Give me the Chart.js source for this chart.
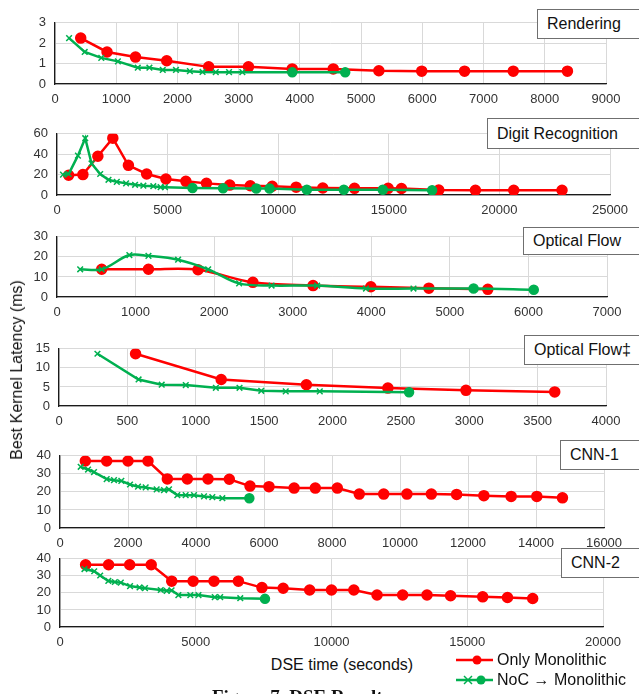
<!DOCTYPE html>
<html>
<head>
<meta charset="utf-8">
<script src="https://cdn.jsdelivr.net/npm/chart.js@4"></script>
<style>
  html, body { margin: 0; padding: 0; background: #fff; }
  #wrap { position: relative; width: 639px; height: 694px; overflow: hidden; font-family: "Liberation Sans", Arial, sans-serif; }
  canvas { position: absolute; left: 0; }
  .tag { position: absolute; background: #fff; border: 1px solid #6f6f6f; font-size: 16px; color: #111; padding: 0 30px 0 9px; box-sizing: border-box; display: flex; align-items: center; white-space: nowrap; }
  .txt { position: absolute; white-space: nowrap; color: #111; }
</style>
</head>
<body>
<div id="wrap"></div>
<script>
// ---- data ----
const renderingMonoX = [420, 850, 1315, 1825, 2510, 3160, 3875, 4545, 5290, 5990, 6690, 7485, 8370];
const renderingMonoY = [2.25, 1.57, 1.32, 1.14, 0.84, 0.84, 0.74, 0.74, 0.65, 0.63, 0.63, 0.63, 0.63];
const renderingNocX = [230, 485, 756, 1027, 1352, 1542, 1760, 1976, 2203, 2410, 2626, 2843, 3060, 3875, 4740];
const renderingNocY = [2.25, 1.57, 1.28, 1.11, 0.8, 0.8, 0.69, 0.69, 0.63, 0.59, 0.58, 0.58, 0.58, 0.57, 0.57];
const renderingNocSteps = 13;

const digitMonoX = [526, 1171, 1847, 2523, 3228, 4054, 4925, 5826, 6757, 7808, 8739, 9730, 10811, 12015, 13449, 14970, 15572, 17259, 18916, 20648, 22831];
const digitMonoY = [19.4, 20, 38, 55.7, 29.1, 20.6, 15.7, 13.4, 11.4, 9.7, 9.1, 8.6, 7.7, 6.9, 6.5, 6.5, 6.4, 4.8, 4.7, 4.7, 4.6];
const digitNocX = [270, 526, 946, 1276, 1562, 1952, 2327, 2703, 3123, 3529, 3904, 4354, 4685, 4880, 6126, 7508, 9009, 9610, 11295, 12967, 14729, 16958];
const digitNocY = [20, 20.6, 38.6, 55.7, 30.9, 20.6, 14.9, 12.9, 11.4, 10, 9.1, 8.6, 7.7, 7.7, 6.9, 6.6, 6.3, 6.3, 5.1, 5.1, 5.1, 4.6];
const digitNocSteps = 14;

const flowMonoX = [569, 1164, 1795, 2493, 3259, 3994, 4733, 5483];
const flowMonoY = [13.8, 13.8, 13.6, 7.3, 5.7, 5.1, 4.4, 3.8];
const flowNocX = [295, 569, 921, 1164, 1541, 1924, 2318, 2731, 3311, 3932, 4537, 5302, 6068];
const flowNocY = [13.8, 13.8, 20.9, 20.5, 18.6, 13.8, 6.8, 5.7, 5.7, 4.2, 4.2, 4.2, 3.6];
const flowNocSteps = 11;

const flow2MonoX = [560, 1186, 1809, 2405, 2976, 3625];
const flow2MonoY = [13.7, 6.96, 5.58, 4.7, 4.1, 3.7];
const flow2NocX = [281, 582, 751, 927, 1147, 1320, 1479, 1658, 1907, 2560];
const flow2NocY = [13.7, 6.96, 5.58, 5.5, 4.78, 4.78, 3.99, 3.84, 3.84, 3.6];
const flow2NocSteps = 9;

const cnn1MonoX = [745, 1373, 2000, 2588, 3157, 3745, 4353, 4980, 5588, 6147, 6886, 7509, 8156, 8802, 9521, 10204, 10922, 11665, 12467, 13269, 14024, 14778];
const cnn1MonoY = [37.1, 37.1, 37.1, 37.1, 27.2, 27.2, 27.2, 27.0, 23.2, 22.9, 22.1, 22.1, 22.1, 18.8, 18.8, 18.8, 18.8, 18.6, 17.9, 17.5, 17.5, 16.7];
const cnn1NocX = [608, 824, 1000, 1373, 1588, 1804, 2059, 2294, 2520, 2843, 3059, 3206, 3451, 3696, 3941, 4235, 4480, 4775, 5569];
const cnn1NocY = [33.9, 32.4, 31, 27.1, 26.5, 26.1, 24.1, 22.9, 22.5, 21.4, 21, 21.4, 18.2, 18.2, 18.2, 17.5, 17.1, 16.5, 16.5];
const cnn1NocSteps = 18;

const cnn2MonoX = [943, 1790, 2567, 3360, 4115, 4903, 5672, 6570, 7438, 8220, 9195, 10000, 10823, 11677, 12620, 13518, 14386, 15569, 16482, 17410];
const cnn2MonoY = [36.5, 36.5, 36.5, 36.5, 26.9, 26.9, 26.9, 26.9, 23.1, 22.7, 21.7, 21.7, 21.7, 18.8, 18.8, 18.8, 18.3, 17.7, 17.3, 16.7];
const cnn2NocX = [900, 1260, 1480, 1780, 2020, 2240, 2580, 2930, 3130, 3710, 3930, 4110, 4360, 4800, 5100, 5700, 5900, 6640, 7550];
const cnn2NocY = [34, 32.7, 30.2, 27, 26.4, 26, 24, 23.2, 22.8, 21.7, 21.2, 21.5, 18.7, 18.7, 18.7, 17.5, 17.5, 16.9, 16.5];
const cnn2NocSteps = 18;

const seriesNames = ['Only Monolithic', 'NoC \u2192 Monolithic'];
const panelNames = ['Rendering', 'Digit Recognition', 'Optical Flow', 'Optical Flow\u2021', 'CNN-1', 'CNN-2'];
const xMax = [9000, 25000, 7000, 4000, 16000, 20000];
const xStep = [1000, 5000, 1000, 500, 2000, 5000];
const yMax = [3, 60, 30, 15, 40, 40];
const yStep = [1, 20, 10, 5, 10, 10];

const RED = '#ff0000';
const GREEN = '#00b050';
const FONT = '"Liberation Sans", Arial, sans-serif';

const wrap = document.getElementById('wrap');

// plot-area box of each panel: [top, bottom, left, right]
const boxes = [
  [14, 84, 55, 606],
  [125, 195, 57, 610],
  [228, 297, 57, 607],
  [340, 406, 59, 606],
  [447, 528, 60, 604],
  [550, 627, 60, 603]
];
// label box position: [left, top, height]
const tags = [[537, 9, 30], [487, 118, 31], [523, 227, 28], [524, 335, 30], [560, 440, 30], [561, 548, 30]];

function pts(xs, ys) { return xs.map((x, i) => ({ x: x, y: ys[i] })); }
const plain = v => String(v);

function panel(i, monoX, monoY, nocX, nocY, nocSteps, tension) {
  const [top, bottom, left, right] = boxes[i];
  const padTop = 8, axisH = 26;
  const c = document.createElement('canvas');
  const h = (bottom - top) + padTop + axisH;
  c.width = 639; c.height = h;
  c.style.top = (top - padTop) + 'px';
  wrap.appendChild(c);

  const nocStyle = nocX.map((_, k) => k < nocSteps ? 'crossRot' : 'circle');
  const nocRad = nocX.map((_, k) => k < nocSteps ? 4 : 4.5);

  new Chart(c.getContext('2d'), {
    type: 'scatter',
    data: {
      datasets: [
        {
          label: seriesNames[1],
          data: pts(nocX, nocY),
          showLine: true,
          borderColor: GREEN,
          backgroundColor: GREEN,
          borderWidth: 2.5,
          pointStyle: nocStyle,
          pointRadius: nocRad,
          pointBorderWidth: 1.5,
          tension: tension,
          order: 0
        },
        {
          label: seriesNames[0],
          data: pts(monoX, monoY),
          showLine: true,
          borderColor: RED,
          backgroundColor: RED,
          borderWidth: 2.5,
          pointStyle: 'circle',
          pointRadius: 4.5,
          tension: tension,
          order: 1
        }
      ]
    },
    options: {
      responsive: false,
      animation: false,
      layout: { padding: { top: padTop, left: 0, right: 639 - right, bottom: 0 } },
      plugins: { legend: { display: false }, tooltip: { enabled: false } },
      scales: {
        x: {
          type: 'linear', min: 0, max: xMax[i],
          afterFit: s => { s.height = axisH; },
          ticks: { stepSize: xStep[i], autoSkip: false, callback: plain, color: '#333', font: { family: FONT, size: 13 }, padding: 8, maxRotation: 0 },
          grid: { color: '#d9d9d9', drawTicks: false },
          border: { color: '#1a1a1a', width: 1.3 }
        },
        y: {
          min: 0, max: yMax[i],
          afterFit: s => { s.width = left; },
          ticks: { stepSize: yStep[i], autoSkip: false, callback: plain, color: '#333', font: { family: FONT, size: 13 }, padding: 9 },
          grid: { color: '#d9d9d9', drawTicks: false },
          border: { color: '#1a1a1a', width: 1.3 }
        }
      }
    }
  });

  const t = document.createElement('div');
  t.className = 'tag';
  t.style.left = tags[i][0] + 'px';
  t.style.top = tags[i][1] + 'px';
  t.style.height = tags[i][2] + 'px';
  t.style.width = (660 - tags[i][0]) + 'px';
  t.textContent = panelNames[i];
  wrap.appendChild(t);
}

panel(0, renderingMonoX, renderingMonoY, renderingNocX, renderingNocY, renderingNocSteps, 0);
panel(1, digitMonoX, digitMonoY, digitNocX, digitNocY, digitNocSteps, 0);
panel(2, flowMonoX, flowMonoY, flowNocX, flowNocY, flowNocSteps, 0.35);
panel(3, flow2MonoX, flow2MonoY, flow2NocX, flow2NocY, flow2NocSteps, 0);
panel(4, cnn1MonoX, cnn1MonoY, cnn1NocX, cnn1NocY, cnn1NocSteps, 0);
panel(5, cnn2MonoX, cnn2MonoY, cnn2NocX, cnn2NocY, cnn2NocSteps, 0);

// shared axis titles, legend and caption
function text(str, css) {
  const d = document.createElement('div');
  d.className = 'txt';
  d.textContent = str;
  Object.assign(d.style, css);
  wrap.appendChild(d);
  return d;
}
text('Best Kernel Latency (ms)', { left: '17px', top: '370px', fontSize: '16px', transform: 'translate(-50%,-50%) rotate(-90deg)' });
text('DSE time (seconds)', { left: '342px', top: '665px', fontSize: '16px', transform: 'translate(-50%,-50%)' });

const leg = document.createElementNS('http://www.w3.org/2000/svg', 'svg');
leg.setAttribute('width', '50'); leg.setAttribute('height', '40');
leg.style.position = 'absolute'; leg.style.left = '452px'; leg.style.top = '650px';
leg.innerHTML =
  '<line x1="4" y1="10" x2="41" y2="10" stroke="' + RED + '" stroke-width="2.5"/>' +
  '<circle cx="25" cy="10" r="4.5" fill="' + RED + '"/>' +
  '<line x1="4" y1="30" x2="41" y2="30" stroke="' + GREEN + '" stroke-width="2.5"/>' +
  '<path d="M12 26 L20 34 M20 26 L12 34" stroke="' + GREEN + '" stroke-width="1.5"/>' +
  '<circle cx="29" cy="30" r="4.5" fill="' + GREEN + '"/>';
wrap.appendChild(leg);
text(seriesNames[0], { left: '497px', top: '660px', fontSize: '16px', transform: 'translateY(-50%)' });
text(seriesNames[1], { left: '497px', top: '680px', fontSize: '16px', transform: 'translateY(-50%)' });

text('Figure 7. DSE Results', { left: '212px', top: '686px', fontSize: '19px', fontWeight: 'bold', fontFamily: '"Liberation Serif", "Times New Roman", serif' });
</script>
</body>
</html>
